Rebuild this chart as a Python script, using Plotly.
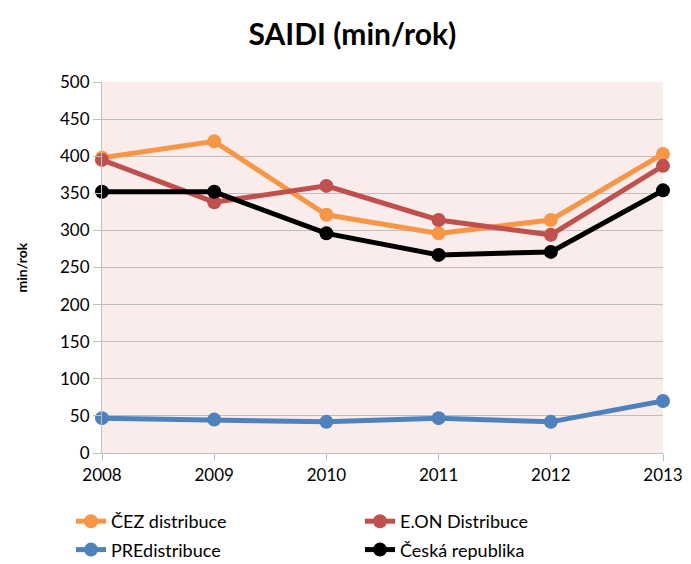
import plotly.graph_objects as go

years = [2008, 2009, 2010, 2011, 2012, 2013]
cez = [398, 420, 321, 296, 314, 403]
eon = [395, 338, 360, 314, 294, 387]
pre = [47, 45, 42, 47, 42, 70]
cr = [352, 352, 296, 267, 271, 354]
names = ["ČEZ distribuce", "E.ON Distribuce", "PREdistribuce", "Česká republika"]
colors = ["#F79646", "#C0504D", "#4F81BD", "#000000"]
series = [cez, eon, pre, cr]
legends = ["legend", "legend2", "legend", "legend2"]

fig = go.Figure()
for name, vals, col, lg in zip(names, series, colors, legends):
    fig.add_trace(go.Scatter(
        x=years, y=vals, name=name, mode="lines+markers",
        line=dict(color=col, width=5),
        marker=dict(color=col, size=14),
        cliponaxis=False, legend=lg, legendgroup=name,
    ))

W, H = 691, 564
L, R, T, B = 102, 28, 82, 111
font = "Lato, 'Open Sans', sans-serif"
leg_common = dict(orientation="v", yref="container", xref="container",
                  y=1 - 503 / H, yanchor="top", xanchor="left",
                  font=dict(size=18, color="#000000"), tracegroupgap=2,
                  itemwidth=30, bgcolor="rgba(0,0,0,0)")
fig.update_layout(
    width=W, height=H,
    margin=dict(l=L, r=R, t=T, b=B, autoexpand=False),
    paper_bgcolor="white",
    plot_bgcolor="#F9ECEA",
    font=dict(family=font, color="#000000", size=16),
    title=dict(text="<b>SAIDI (min/rok)</b>", x=0.51, xanchor="center",
               y=1 - 34 / H, yanchor="middle",
               font=dict(size=30, color="#000000", family=font)),
    xaxis=dict(range=[2008, 2013], tickmode="array", tickvals=years,
               ticktext=[str(y) for y in years],
               showgrid=False, zeroline=False,
               showline=True, linecolor="#BFBFBF", linewidth=1,
               ticks="outside", ticklen=7, tickcolor="#BFBFBF",
               tickfont=dict(size=17, color="#000000")),
    yaxis=dict(range=[0, 500], dtick=50, showgrid=True, gridcolor="#BFBFBF",
               gridwidth=1, zeroline=False,
               showline=True, linecolor="#BFBFBF", linewidth=1,
               ticks="outside", ticklen=8, tickcolor="#BFBFBF",
               tickfont=dict(size=17, color="#000000")),
    legend=dict(x=71 / W, **leg_common),
    legend2=dict(x=360 / W, **leg_common),
    annotations=[dict(text="<b>min/rok</b>", textangle=-90,
                      xref="paper", yref="paper",
                      x=(21 - L) / (W - L - R), y=0.5,
                      xanchor="center", yanchor="middle", showarrow=False,
                      font=dict(size=14, color="#000000"))],
)
fig.write_html("out.html", config={"displayModeBar": False},
               post_script="document.body.style.margin='0';"
                           "document.body.style.padding='0';")
